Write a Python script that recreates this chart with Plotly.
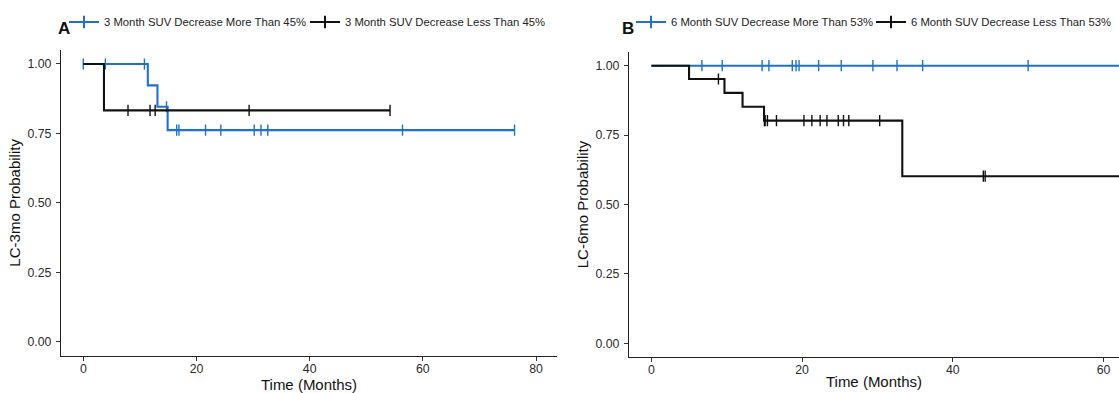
import plotly.graph_objects as go

# ---------------- data ----------------
# Panel A : 3-month SUV decrease
a_more_label = "3 Month SUV Decrease More Than 45%"
a_more_step_t = [0, 11.4, 13.1, 14.9, 76.2]
a_more_step_s = [1.0, 0.923, 0.846, 0.762, 0.762]
a_more_cens = [0, 3.9, 10.8, 14.7, 16.5, 16.9, 21.6, 24.3, 30.2, 31.4, 32.6, 56.4, 76.2]

a_less_label = "3 Month SUV Decrease Less Than 45%"
a_less_step_t = [0, 3.65, 54.2]
a_less_step_s = [1.0, 0.833, 0.833]
a_less_cens = [7.9, 11.8, 12.7, 29.3, 54.2]

# Panel B : 6-month SUV decrease
b_more_label = "6 Month SUV Decrease More Than 53%"
b_more_step_t = [0, 66]
b_more_step_s = [1.0, 1.0]
b_more_cens = [6.7, 9.4, 14.7, 15.6, 18.7, 19.2, 19.6, 22.2, 25.2, 29.4, 32.6, 36.0, 50.0]

b_less_label = "6 Month SUV Decrease Less Than 53%"
b_less_step_t = [0, 5.0, 9.7, 12.1, 14.95, 33.3, 66]
b_less_step_s = [1.0, 0.952, 0.902, 0.852, 0.802, 0.602, 0.602]
b_less_cens = [8.9, 15.0, 15.1, 15.4, 16.6, 20.25, 21.3, 22.4, 23.3, 24.8, 25.5, 26.2, 30.3, 44.05, 44.3]

y_ticks = [0, 0.25, 0.5, 0.75, 1.0]
xa_ticks = [0, 20, 40, 60, 80]
xb_ticks = [0, 20, 40, 60]

BLUE = "#1f72c6"
BLACK = "#111111"
FONT = "Liberation Sans, Arial, sans-serif"
W, H = 1119, 393


def step_at(t, ts, ss):
    val = ss[0]
    for ti, si in zip(ts, ss):
        if ti <= t:
            val = si
    return val


fig = go.Figure()


def add_group(step_t, step_s, cens, color, label, xa, ya, legend):
    fig.add_trace(go.Scatter(x=step_t, y=step_s, mode="lines", line=dict(color=color, width=2.1, shape="hv"),
                             xaxis=xa, yaxis=ya, showlegend=False, hoverinfo="skip"))
    fig.add_trace(go.Scatter(x=cens, y=[step_at(c, step_t, step_s) for c in cens], mode="markers",
                             marker=dict(symbol="line-ns", size=8, line=dict(color=color, width=1.4)),
                             xaxis=xa, yaxis=ya, showlegend=False))
    fig.add_trace(go.Scatter(x=[None], y=[None], mode="lines+markers", name=label,
                             line=dict(color=color, width=2),
                             marker=dict(symbol="cross-thin", size=9, line=dict(color=color, width=2)),
                             xaxis=xa, yaxis=ya, legend=legend, showlegend=True))


add_group(a_more_step_t, a_more_step_s, a_more_cens, BLUE, a_more_label, "x", "y", "legend")
add_group(a_less_step_t, a_less_step_s, a_less_cens, BLACK, a_less_label, "x", "y", "legend2")
add_group(b_more_step_t, b_more_step_s, b_more_cens, BLUE, b_more_label, "x2", "y2", "legend3")
add_group(b_less_step_t, b_less_step_s, b_less_cens, BLACK, b_less_label, "x2", "y2", "legend4")

axis_common = dict(showline=True, linecolor="#222222", linewidth=1.4, ticks="outside", ticklen=4,
                   tickwidth=1.1, tickcolor="#333333", showgrid=False, zeroline=False,
                   tickfont=dict(family=FONT, size=12.3, color="#2a2a2a"), automargin=False)
title_font = dict(size=15, family=FONT, color="#111")

fig.update_layout(
    width=W, height=H,
    margin=dict(l=0, r=0, t=0, b=0),
    paper_bgcolor="white", plot_bgcolor="white",
    font=dict(family=FONT, color="#111111"),
    xaxis=dict(domain=[61 / W, 557 / W], range=[-3.94, 83.7], tickvals=xa_ticks, ticklabelstandoff=-3,
               title=dict(text="Time (Months)", font=title_font, standoff=0),
               anchor="y", **axis_common),
    yaxis=dict(domain=[1 - 355.6 / H, 1 - 50.1 / H], range=[-0.05, 1.05], tickvals=y_ticks, tickformat=".2f",
               ticklabelstandoff=2,
               title=dict(text="LC-3mo Probability", font=title_font, standoff=3),
               anchor="x", **axis_common),
    xaxis2=dict(domain=[629 / W, 1.0], range=[-2.97, 62.06], tickvals=xb_ticks, ticklabelstandoff=-3,
                title=dict(text="Time (Months)", font=title_font, standoff=0),
                anchor="y2", **axis_common),
    yaxis2=dict(domain=[1 - 357.2 / H, 1 - 51.8 / H], range=[-0.05, 1.05], tickvals=y_ticks, tickformat=".2f",
                ticklabelstandoff=2,
                title=dict(text="LC-6mo Probability", font=title_font, standoff=3),
                anchor="x2", **axis_common),
)

leg_common = dict(orientation="h", xanchor="left", yanchor="middle", y=1 - 22 / H,
                  bgcolor="rgba(0,0,0,0)", borderwidth=0,
                  font=dict(family=FONT, size=11.3, color="#222222"))
fig.update_layout(
    legend=dict(x=(104 - 40) / W, **leg_common),
    legend2=dict(x=(345 - 40) / W, **leg_common),
    legend3=dict(x=(671 - 40) / W, **leg_common),
    legend4=dict(x=(911 - 40) / W, **leg_common),
)

fig.add_annotation(text="<b>A</b>", x=63.5 / W, y=1 - 29 / H, xref="paper", yref="paper",
                   xanchor="center", yanchor="middle",
                   showarrow=False, font=dict(family=FONT, size=17, color="#111"))
fig.add_annotation(text="<b>B</b>", x=627.5 / W, y=1 - 29 / H, xref="paper", yref="paper",
                   xanchor="center", yanchor="middle",
                   showarrow=False, font=dict(family=FONT, size=17, color="#111"))

fig.write_html("out.html", config={"displayModeBar": False},
               post_script="document.body.style.margin='0';document.body.style.overflow='hidden';")
